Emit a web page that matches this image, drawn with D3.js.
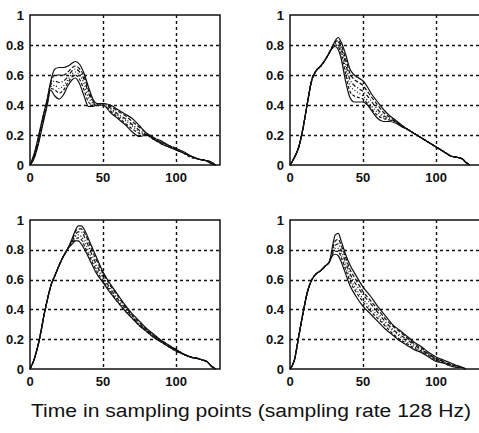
<!DOCTYPE html>
<html>
<head>
<meta charset="utf-8">
<script src="https://cdn.jsdelivr.net/npm/d3@7"></script>
<style>
  html, body { margin: 0; padding: 0; background: #fff; }
  svg { display: block; }
  .tick-label { font-family: "Liberation Sans", Arial, sans-serif; font-weight: bold; font-size: 13px; fill: #111; }
  .title { font-family: "Liberation Sans", Arial, sans-serif; font-size: 18px; fill: #111; }
</style>
</head>
<body>
<div id="chart"></div>
<script>
// Four panels, six curves each
const xTicks = [0, 50, 100];
const yTicks = [0, 0.2, 0.4, 0.6, 0.8, 1];
const yTickLabels = ["0", "0.2", "0.4", "0.6", "0.8", "1"];
const xLabel = "Time in sampling points (sampling rate 128 Hz)";

// top-left
const x1 = [0, 3, 6, 9, 12, 14, 17, 20, 23, 26, 29, 31, 34, 37, 40, 43, 46, 50, 55, 60, 65, 70, 75, 80, 85, 90, 95, 100, 105, 110, 115, 120, 124, 127];
const p1 = [
  [0, 0.08, 0.2, 0.33, 0.45, 0.55, 0.64, 0.65, 0.65, 0.66, 0.68, 0.69, 0.67, 0.61, 0.52, 0.44, 0.41, 0.41, 0.40, 0.37, 0.34, 0.31, 0.26, 0.21, 0.18, 0.16, 0.13, 0.11, 0.09, 0.06, 0.04, 0.03, 0.01, 0],
  [0, 0.07, 0.19, 0.32, 0.44, 0.54, 0.60, 0.60, 0.60, 0.62, 0.65, 0.66, 0.64, 0.59, 0.50, 0.43, 0.41, 0.41, 0.39, 0.36, 0.33, 0.29, 0.25, 0.21, 0.18, 0.15, 0.13, 0.11, 0.08, 0.06, 0.04, 0.03, 0.02, 0],
  [0, 0.06, 0.18, 0.31, 0.44, 0.53, 0.56, 0.55, 0.56, 0.59, 0.63, 0.64, 0.62, 0.57, 0.48, 0.42, 0.40, 0.41, 0.38, 0.34, 0.31, 0.27, 0.23, 0.20, 0.17, 0.15, 0.13, 0.10, 0.08, 0.06, 0.04, 0.03, 0.01, 0],
  [0, 0.06, 0.17, 0.30, 0.43, 0.52, 0.53, 0.51, 0.53, 0.57, 0.61, 0.62, 0.60, 0.54, 0.45, 0.41, 0.40, 0.40, 0.37, 0.33, 0.30, 0.26, 0.22, 0.20, 0.17, 0.15, 0.12, 0.11, 0.08, 0.06, 0.04, 0.03, 0.02, 0],
  [0, 0.05, 0.16, 0.29, 0.42, 0.51, 0.50, 0.48, 0.50, 0.55, 0.59, 0.60, 0.57, 0.50, 0.42, 0.40, 0.40, 0.40, 0.36, 0.32, 0.28, 0.24, 0.21, 0.20, 0.17, 0.14, 0.12, 0.10, 0.08, 0.05, 0.04, 0.03, 0.01, 0],
  [0, 0.05, 0.15, 0.28, 0.41, 0.50, 0.46, 0.44, 0.47, 0.53, 0.57, 0.58, 0.54, 0.46, 0.39, 0.39, 0.40, 0.40, 0.35, 0.31, 0.27, 0.22, 0.19, 0.20, 0.17, 0.14, 0.12, 0.10, 0.08, 0.06, 0.04, 0.03, 0.02, 0]
];

// top-right
const x2 = [0, 3, 6, 9, 12, 15, 18, 21, 24, 27, 29, 31, 33, 35, 38, 41, 44, 47, 50, 53, 56, 60, 64, 68, 72, 76, 80, 85, 90, 95, 100, 105, 110, 115, 118, 120, 123];
const p2 = [
  [0, 0.05, 0.12, 0.25, 0.42, 0.57, 0.63, 0.66, 0.70, 0.75, 0.79, 0.83, 0.85, 0.82, 0.74, 0.64, 0.60, 0.58, 0.56, 0.52, 0.47, 0.42, 0.37, 0.33, 0.30, 0.27, 0.24, 0.21, 0.18, 0.15, 0.12, 0.09, 0.06, 0.05, 0.04, 0.02, 0],
  [0, 0.05, 0.12, 0.25, 0.42, 0.57, 0.63, 0.66, 0.70, 0.75, 0.79, 0.82, 0.83, 0.80, 0.71, 0.61, 0.57, 0.55, 0.53, 0.49, 0.45, 0.40, 0.35, 0.32, 0.30, 0.26, 0.24, 0.21, 0.18, 0.15, 0.12, 0.09, 0.06, 0.05, 0.04, 0.02, 0],
  [0, 0.05, 0.12, 0.25, 0.42, 0.57, 0.63, 0.66, 0.70, 0.75, 0.79, 0.81, 0.82, 0.78, 0.68, 0.57, 0.53, 0.51, 0.49, 0.46, 0.42, 0.37, 0.33, 0.31, 0.29, 0.26, 0.24, 0.21, 0.18, 0.15, 0.12, 0.09, 0.06, 0.05, 0.04, 0.02, 0],
  [0, 0.05, 0.12, 0.25, 0.42, 0.57, 0.63, 0.66, 0.70, 0.75, 0.78, 0.80, 0.80, 0.76, 0.65, 0.53, 0.50, 0.48, 0.46, 0.43, 0.39, 0.35, 0.32, 0.30, 0.29, 0.26, 0.24, 0.21, 0.18, 0.15, 0.12, 0.09, 0.06, 0.05, 0.04, 0.02, 0],
  [0, 0.05, 0.12, 0.25, 0.42, 0.57, 0.63, 0.66, 0.70, 0.75, 0.78, 0.80, 0.79, 0.74, 0.61, 0.49, 0.46, 0.45, 0.44, 0.41, 0.37, 0.33, 0.31, 0.30, 0.29, 0.26, 0.24, 0.21, 0.18, 0.15, 0.12, 0.09, 0.06, 0.05, 0.04, 0.02, 0],
  [0, 0.05, 0.12, 0.25, 0.42, 0.57, 0.63, 0.66, 0.70, 0.75, 0.78, 0.79, 0.77, 0.71, 0.56, 0.45, 0.42, 0.42, 0.42, 0.40, 0.36, 0.31, 0.29, 0.29, 0.28, 0.26, 0.24, 0.21, 0.18, 0.15, 0.12, 0.09, 0.06, 0.05, 0.04, 0.02, 0]
];

// bottom-left
const x3 = [0, 3, 6, 10, 14, 18, 22, 26, 29, 31, 33, 35, 38, 41, 45, 50, 55, 60, 65, 70, 75, 80, 85, 90, 95, 100, 105, 110, 115, 118, 121, 124, 127];
const p3 = [
  [0, 0.07, 0.18, 0.38, 0.55, 0.65, 0.74, 0.81, 0.88, 0.93, 0.96, 0.96, 0.92, 0.85, 0.76, 0.65, 0.57, 0.50, 0.43, 0.37, 0.32, 0.27, 0.23, 0.19, 0.16, 0.13, 0.10, 0.08, 0.07, 0.06, 0.05, 0.02, 0],
  [0, 0.07, 0.18, 0.38, 0.55, 0.65, 0.74, 0.81, 0.87, 0.92, 0.94, 0.94, 0.90, 0.83, 0.74, 0.64, 0.56, 0.49, 0.42, 0.36, 0.31, 0.26, 0.22, 0.19, 0.16, 0.13, 0.10, 0.08, 0.07, 0.06, 0.05, 0.02, 0],
  [0, 0.07, 0.18, 0.38, 0.55, 0.65, 0.74, 0.81, 0.86, 0.90, 0.92, 0.92, 0.87, 0.80, 0.71, 0.62, 0.54, 0.47, 0.41, 0.35, 0.30, 0.26, 0.22, 0.19, 0.15, 0.13, 0.10, 0.08, 0.07, 0.06, 0.05, 0.02, 0],
  [0, 0.07, 0.18, 0.38, 0.55, 0.65, 0.74, 0.81, 0.85, 0.89, 0.90, 0.89, 0.84, 0.77, 0.69, 0.61, 0.53, 0.46, 0.40, 0.34, 0.29, 0.25, 0.21, 0.18, 0.15, 0.13, 0.10, 0.08, 0.07, 0.06, 0.05, 0.02, 0],
  [0, 0.07, 0.18, 0.38, 0.55, 0.65, 0.74, 0.81, 0.85, 0.87, 0.88, 0.87, 0.81, 0.75, 0.67, 0.59, 0.52, 0.45, 0.39, 0.34, 0.29, 0.25, 0.21, 0.18, 0.15, 0.12, 0.10, 0.08, 0.07, 0.06, 0.05, 0.02, 0],
  [0, 0.07, 0.18, 0.38, 0.55, 0.65, 0.74, 0.81, 0.84, 0.86, 0.86, 0.84, 0.79, 0.73, 0.65, 0.58, 0.51, 0.45, 0.39, 0.34, 0.29, 0.25, 0.21, 0.18, 0.15, 0.12, 0.10, 0.08, 0.07, 0.06, 0.05, 0.02, 0]
];

// bottom-right
const x4 = [0, 3, 6, 9, 12, 15, 18, 21, 24, 27, 29, 31, 33, 35, 38, 41, 45, 50, 55, 60, 65, 70, 75, 80, 85, 90, 95, 100, 105, 110, 115, 118, 120];
const p4 = [
  [0, 0.06, 0.22, 0.38, 0.52, 0.60, 0.64, 0.66, 0.69, 0.72, 0.82, 0.90, 0.91, 0.86, 0.77, 0.70, 0.63, 0.55, 0.49, 0.42, 0.36, 0.30, 0.26, 0.22, 0.18, 0.15, 0.11, 0.08, 0.06, 0.04, 0.02, 0.01, 0],
  [0, 0.06, 0.22, 0.38, 0.52, 0.60, 0.64, 0.66, 0.69, 0.72, 0.80, 0.86, 0.87, 0.83, 0.75, 0.67, 0.60, 0.52, 0.46, 0.40, 0.34, 0.29, 0.25, 0.21, 0.17, 0.14, 0.10, 0.07, 0.05, 0.03, 0.02, 0.01, 0],
  [0, 0.06, 0.22, 0.38, 0.52, 0.60, 0.64, 0.66, 0.69, 0.72, 0.79, 0.83, 0.84, 0.80, 0.72, 0.64, 0.57, 0.50, 0.44, 0.38, 0.32, 0.27, 0.23, 0.20, 0.16, 0.13, 0.10, 0.07, 0.05, 0.03, 0.02, 0.01, 0],
  [0, 0.06, 0.22, 0.38, 0.52, 0.60, 0.64, 0.66, 0.69, 0.72, 0.78, 0.81, 0.81, 0.77, 0.69, 0.61, 0.54, 0.47, 0.41, 0.36, 0.30, 0.26, 0.22, 0.18, 0.15, 0.12, 0.09, 0.06, 0.04, 0.03, 0.01, 0.01, 0],
  [0, 0.06, 0.22, 0.38, 0.52, 0.60, 0.64, 0.66, 0.69, 0.72, 0.77, 0.79, 0.79, 0.75, 0.67, 0.59, 0.52, 0.45, 0.39, 0.34, 0.29, 0.24, 0.20, 0.17, 0.14, 0.12, 0.09, 0.06, 0.04, 0.02, 0.01, 0.01, 0],
  [0, 0.06, 0.22, 0.38, 0.52, 0.60, 0.64, 0.66, 0.69, 0.72, 0.76, 0.77, 0.76, 0.72, 0.64, 0.56, 0.49, 0.42, 0.37, 0.32, 0.27, 0.23, 0.19, 0.16, 0.13, 0.11, 0.08, 0.05, 0.04, 0.02, 0.01, 0.01, 0]
];

// line styles of the six curves in each panel
const dashes = [null, "4,2", "4,2,1,2", "1,2", "3,2", null];

const width = 479;
const height = 433;

const svg = d3.select("#chart")
  .append("svg")
  .attr("width", width)
  .attr("height", height);

function drawPanel(left, top, w, h, xs, curves) {
  const x = d3.scaleLinear().domain([0, 130]).range([left, left + 190]);
  const y = d3.scaleLinear().domain([0, 1]).range([top + h, top]);

  const g = svg.append("g");

  // dotted grid
  g.selectAll("line.gx")
    .data(xTicks.filter((t) => t > 0))
    .enter()
    .append("line")
    .attr("x1", (d) => Math.round(x(d)) + 0.5)
    .attr("x2", (d) => Math.round(x(d)) + 0.5)
    .attr("y1", top)
    .attr("y2", top + h)
    .attr("stroke", "#111")
    .attr("stroke-width", 1.4)
    .attr("stroke-dasharray", "3,3");

  g.selectAll("line.gy")
    .data(yTicks.filter((t) => t > 0 && t < 1))
    .enter()
    .append("line")
    .attr("x1", left)
    .attr("x2", left + w)
    .attr("y1", (d) => Math.round(y(d)) + 0.5)
    .attr("y2", (d) => Math.round(y(d)) + 0.5)
    .attr("stroke", "#111")
    .attr("stroke-width", 1.4)
    .attr("stroke-dasharray", "3,3");

  // curves
  const line = d3.line()
    .x((d) => x(d[0]))
    .y((d) => y(d[1]))
    .curve(d3.curveMonotoneX);

  curves.forEach((ys, i) => {
    g.append("path")
      .attr("d", line(xs.map((v, j) => [v, ys[j]])))
      .attr("fill", "none")
      .attr("stroke", "#111")
      .attr("stroke-width", 1.2)
      .attr("stroke-dasharray", dashes[i]);
  });

  // box
  g.append("rect")
    .attr("x", left)
    .attr("y", top)
    .attr("width", w)
    .attr("height", h)
    .attr("fill", "none")
    .attr("stroke", "#111")
    .attr("stroke-width", 1.5);

  // tick labels
  g.selectAll("text.yl")
    .data(yTicks)
    .enter()
    .append("text")
    .attr("class", "tick-label")
    .attr("x", left - 6)
    .attr("y", (d) => y(d) + 4.5)
    .attr("text-anchor", "end")
    .text((d, i) => yTickLabels[i]);

  g.selectAll("text.xl")
    .data(xTicks)
    .enter()
    .append("text")
    .attr("class", "tick-label")
    .attr("x", (d) => x(d))
    .attr("y", top + h + 17)
    .attr("text-anchor", "middle")
    .text((d) => d);
}

drawPanel(30, 15, 190, 150, x1, p1);
drawPanel(290, 15, 192, 150, x2, p2);
drawPanel(30, 220, 190, 149, x3, p3);
drawPanel(290, 220, 192, 149, x4, p4);

svg.append("text")
  .attr("class", "title")
  .attr("x", 251)
  .attr("y", 417)
  .attr("text-anchor", "middle")
  .attr("textLength", 440)
  .attr("lengthAdjust", "spacingAndGlyphs")
  .text(xLabel);
</script>
</body>
</html>
